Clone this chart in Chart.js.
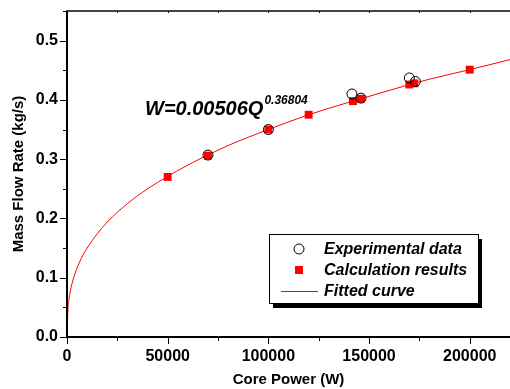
<!DOCTYPE html>
<html>
<head>
<meta charset="utf-8">
<script src="https://cdn.jsdelivr.net/npm/chart.js@4.4.0/dist/chart.umd.min.js"></script>
<style>
  html, body { margin: 0; padding: 0; background: #fff; overflow: hidden; }
  canvas { display: block; }
</style>
</head>
<body>
<canvas id="chart" width="510" height="389"></canvas>
<script>
// experimental points (core power W, mass flow kg/s)
const expPower = [70000, 100000, 141500, 146000, 170000, 173000];
const expFlow  = [0.307, 0.350, 0.410, 0.403, 0.437, 0.431];

// calculation results
const calcPower = [50000, 70000, 100000, 120000, 142000, 146000, 170000, 172500, 200000];
const calcFlow  = [0.270, 0.306, 0.350, 0.375, 0.398, 0.402, 0.426, 0.428, 0.451];

// fitted curve
const fitPower = [0, 500, 1000, 2000, 4000, 7000, 10000, 15000, 20000, 30000, 40000, 50000,
                  60000, 80000, 100000, 120000, 140000, 160000, 180000, 200000, 220000];
const fitFlow  = [0, 0.050, 0.064, 0.083, 0.107, 0.132, 0.150, 0.174, 0.194, 0.225, 0.250, 0.271,
                  0.290, 0.323, 0.350, 0.375, 0.396, 0.416, 0.435, 0.451, 0.468];

const xTicks = [0, 50000, 100000, 150000, 200000];
const yTicks = [0.0, 0.1, 0.2, 0.3, 0.4, 0.5];

const eqMain = 'W=0.00506Q';
const eqExp = '0.36804';

const FONT = '"Liberation Sans", Arial, sans-serif';

const toXY = (xs, ys) => xs.map((x, i) => ({ x: x, y: ys[i] }));

// axes, ticks, equation and boxed legend drawn like the original
const decorPlugin = {
    id: 'decor',
    afterDraw(chart) {
        const ctx = chart.ctx;
        const a = chart.chartArea;
        const xs = chart.scales.x, ys = chart.scales.y;
        ctx.save();

        // axis frame (left, bottom, top)
        ctx.strokeStyle = '#000';
        ctx.lineWidth = 2;
        ctx.beginPath();
        ctx.moveTo(a.left, a.top); ctx.lineTo(a.left, a.bottom);
        ctx.moveTo(a.left - 1, a.bottom); ctx.lineTo(a.right, a.bottom);
        ctx.stroke();
        ctx.strokeStyle = '#444';
        ctx.beginPath();
        ctx.moveTo(a.left - 1, a.top); ctx.lineTo(a.right, a.top);
        ctx.stroke();

        // tick marks
        ctx.strokeStyle = '#000';
        ctx.lineWidth = 1;
        ctx.beginPath();
        for (let v = 0; v <= 220000; v += 25000) {
            const px = Math.round(xs.getPixelForValue(v)) + 0.5;
            const major = v % 50000 === 0;
            ctx.moveTo(px, a.bottom); ctx.lineTo(px, a.bottom + (major ? 7 : 4));
            ctx.moveTo(px, a.top); ctx.lineTo(px, a.top + 2);
        }
        for (let k = 0; k <= 11; k++) {
            const py = Math.round(ys.getPixelForValue(k * 0.05)) + 0.5;
            ctx.moveTo(a.left, py); ctx.lineTo(a.left - (k % 2 === 0 ? 7 : 4), py);
        }
        ctx.stroke();

        // fit equation
        ctx.fillStyle = '#000';
        ctx.textBaseline = 'alphabetic';
        ctx.font = 'italic bold 20px ' + FONT;
        const ex = 145, ey = 115;
        ctx.fillText(eqMain, ex, ey);
        const w = ctx.measureText(eqMain).width;
        ctx.font = 'italic bold 12px ' + FONT;
        ctx.fillText(eqExp, ex + w + 1, ey - 11);

        // legend box with shadow
        const bx = 269, by = 234, bw = 209, bh = 69;
        ctx.fillStyle = '#000';
        ctx.fillRect(bx + 4, by + 5, bw, bh);
        ctx.fillStyle = '#fff';
        ctx.fillRect(bx, by, bw, bh);
        ctx.strokeStyle = '#000';
        ctx.lineWidth = 1;
        ctx.strokeRect(bx + 0.5, by + 0.5, bw, bh);

        const ds = chart.data.datasets;
        const rows = [by + 15, by + 36, by + 57];
        const symX = 299, txtX = 324;
        ctx.font = 'italic bold 16px ' + FONT;
        ctx.textBaseline = 'middle';
        ds.forEach((d, i) => {
            const ry = rows[i];
            if (d.pointStyle === 'circle' && !d.showLine) {
                ctx.beginPath();
                ctx.arc(symX, ry, 5, 0, Math.PI * 2);
                ctx.strokeStyle = '#000';
                ctx.lineWidth = 1;
                ctx.stroke();
            } else if (d.pointStyle === 'rect') {
                ctx.fillStyle = 'red';
                ctx.fillRect(symX - 4, ry - 4, 8, 8);
            } else {
                ctx.strokeStyle = 'red';
                ctx.lineWidth = 1;
                ctx.beginPath();
                ctx.moveTo(281, ry + 0.5); ctx.lineTo(318, ry + 0.5);
                ctx.stroke();
            }
            ctx.fillStyle = '#000';
            ctx.fillText(d.label, txtX, ry + 1);
        });
        ctx.restore();
    }
};

new Chart(document.getElementById('chart'), {
    type: 'scatter',
    data: {
        datasets: [
            {
                label: 'Experimental data',
                data: toXY(expPower, expFlow),
                pointStyle: 'circle',
                pointRadius: 5,
                pointBackgroundColor: 'rgba(0,0,0,0)',
                pointBorderColor: '#000',
                pointBorderWidth: 1,
                showLine: false,
                order: 0
            },
            {
                label: 'Calculation results',
                data: toXY(calcPower, calcFlow),
                pointStyle: 'rect',
                pointRadius: 5.6,
                pointBackgroundColor: 'red',
                pointBorderColor: 'red',
                pointBorderWidth: 0,
                showLine: false,
                order: 1
            },
            {
                label: 'Fitted curve',
                data: toXY(fitPower, fitFlow),
                showLine: true,
                borderColor: 'red',
                borderWidth: 1,
                pointRadius: 0,
                tension: 0.4,
                cubicInterpolationMode: 'monotone',
                order: 2
            }
        ]
    },
    options: {
        responsive: false,
        animation: false,
        layout: { autoPadding: false, padding: { top: 11, right: 0, left: 0, bottom: 0 } },
        plugins: {
            legend: { display: false },
            tooltip: { enabled: false }
        },
        scales: {
            x: {
                type: 'linear',
                min: 0,
                max: 220000,
                afterFit: (s) => { s.height = 52; s.paddingLeft = 0; s.paddingRight = 0; },
                afterBuildTicks: (s) => { s.ticks = xTicks.map(v => ({ value: v })); },
                grid: { display: false, drawTicks: false },
                border: { display: false },
                ticks: {
                    padding: 10,
                    maxRotation: 0,
                    autoSkip: false,
                    color: '#000',
                    font: { family: FONT, size: 16, weight: 'bold' },
                    callback: (v) => String(v)
                },
                title: {
                    display: true,
                    text: 'Core Power (W)',
                    color: '#000',
                    padding: { top: 0, bottom: 0 },
                    font: { family: FONT, size: 15, weight: 'bold' }
                }
            },
            y: {
                min: 0,
                max: 0.55,
                afterFit: (s) => { s.width = 67; s.paddingTop = 0; s.paddingBottom = 0; },
                afterBuildTicks: (s) => { s.ticks = yTicks.map(v => ({ value: v })); },
                grid: { display: false, drawTicks: false },
                border: { display: false },
                ticks: {
                    padding: 9,
                    autoSkip: false,
                    color: '#000',
                    font: { family: FONT, size: 16, weight: 'bold' },
                    callback: (v) => Number(v).toFixed(1)
                },
                title: {
                    display: true,
                    text: 'Mass Flow Rate (kg/s)',
                    color: '#000',
                    padding: { top: 10, bottom: 0 },
                    font: { family: FONT, size: 15, weight: 'bold' }
                }
            }
        }
    },
    plugins: [decorPlugin]
});
</script>
</body>
</html>
